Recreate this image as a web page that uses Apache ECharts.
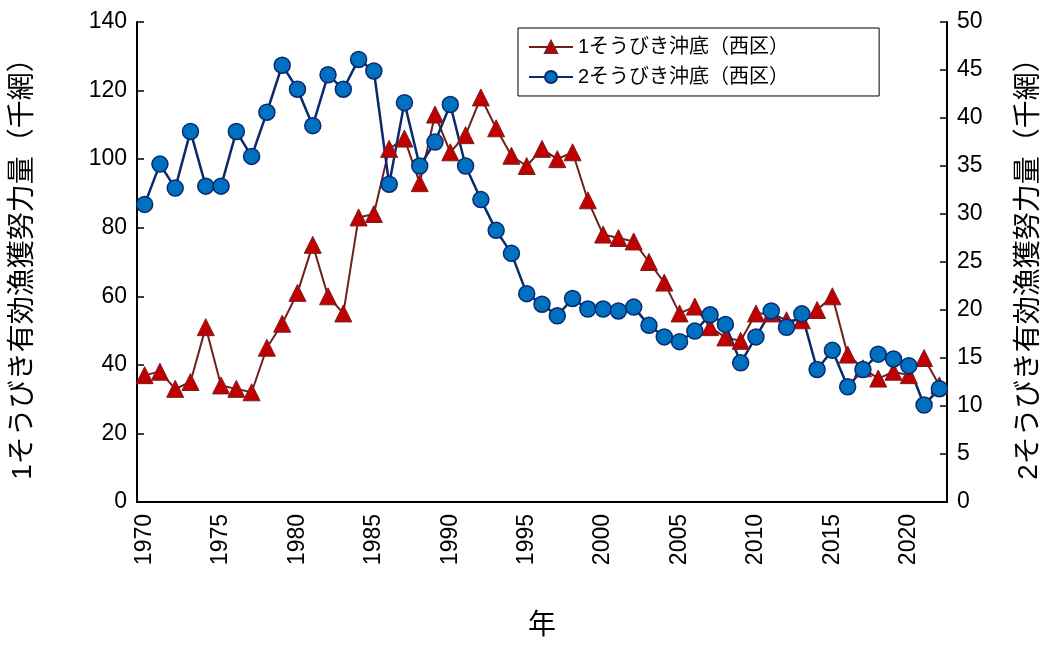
<!DOCTYPE html>
<html><head><meta charset="utf-8">
<script src="https://cdn.jsdelivr.net/npm/echarts@6/dist/echarts.min.js"></script>
<style>html,body{margin:0;padding:0;background:#fff}#c{width:1051px;height:651px}</style>
</head><body><div id="c"></div>
<script>
const years = [];
for (let y = 1970; y <= 2022; y++) years.push(String(y));
const s1Name = '1そうびき沖底（西区）';
const s2Name = '2そうびき沖底（西区）';
const s1 = [37,38,33,35,51,34,33,32,45,52,61,75,60,55,83,84,103,106,93,113,102,107,118,109,101,98,103,100,102,88,78,77,76,70,64,55,57,51,48,47,55,55,53,53,56,60,43,39,36,38,37,42,34];
const s2 = [31,35.2,32.7,38.6,32.9,32.9,38.6,36,40.6,45.5,43,39.2,44.5,43,46.1,44.9,33.1,41.6,35,37.5,41.4,35,31.5,28.3,25.9,21.7,20.6,19.4,21.2,20.1,20.1,19.9,20.3,18.4,17.2,16.7,17.8,19.5,18.5,14.5,17.2,19.9,18.2,19.6,13.8,15.8,12,13.8,15.4,14.9,14.2,10.1,11.8];
const F = 'Arial, "Liberation Sans", "Noto Sans CJK JP", sans-serif';
const chart = echarts.init(document.getElementById('c'));
chart.setOption({
  animation:false,
  grid:{left:137,right:103,top:22,bottom:149},
  legend:{top:28,left:518,orient:'vertical',itemGap:10,itemWidth:44,itemHeight:15,
    borderColor:'#000',borderWidth:1,borderRadius:0,padding:[9,90,9,10],
    textStyle:{fontSize:20,fontFamily:F,color:'#000'},data:[s1Name,s2Name]},
  xAxis:{type:'category',data:years,boundaryGap:true,
    axisLine:{lineStyle:{color:'#000',width:2}},
    axisTick:{show:false},
    axisLabel:{rotate:90,fontSize:23,fontFamily:F,color:'#000',margin:12,
      interval:(i,v)=>Number(v)%5===0},
    name:'年',nameLocation:'middle',nameGap:110,nameTextStyle:{fontSize:28,fontFamily:F,color:'#000'}},
  yAxis:[
    {type:'value',min:0,max:140,interval:20,splitLine:{show:false},
     axisLine:{show:true,lineStyle:{color:'#000',width:2}},
     axisTick:{show:true,inside:true,length:7,lineStyle:{color:'#000',width:1.5}},
     axisLabel:{fontSize:23,fontFamily:F,color:'#000',margin:10},
     name:'1そうびき有効漁獲努力量（千網）',nameLocation:'middle',nameGap:100,nameRotate:90,
     nameTextStyle:{fontSize:28,fontFamily:F,color:'#000'}},
    {type:'value',min:0,max:50,interval:5,splitLine:{show:false},position:'right',
     axisLine:{show:true,lineStyle:{color:'#000',width:2}},
     axisTick:{show:true,inside:true,length:7,lineStyle:{color:'#000',width:1.5}},
     axisLabel:{fontSize:23,fontFamily:F,color:'#000',margin:10},
     name:'2そうびき有効漁獲努力量（千網）',nameLocation:'middle',nameGap:68,nameRotate:90,
     nameTextStyle:{fontSize:28,fontFamily:F,color:'#000'}}
  ],
  series:[
    {name:s1Name,type:'line',data:s1,yAxisIndex:0,symbol:'triangle',symbolSize:17,showAllSymbol:true,
     lineStyle:{color:'#6e1f1f',width:2},itemStyle:{color:'#c00000',borderColor:'#7a2020',borderWidth:1}},
    {name:s2Name,type:'line',data:s2,yAxisIndex:1,symbol:'circle',symbolSize:16,showAllSymbol:true,
     lineStyle:{color:'#0a2a6e',width:2.5},itemStyle:{color:'#0070c0',borderColor:'#0a2a6e',borderWidth:1.5}}
  ]
});
</script></body></html>
